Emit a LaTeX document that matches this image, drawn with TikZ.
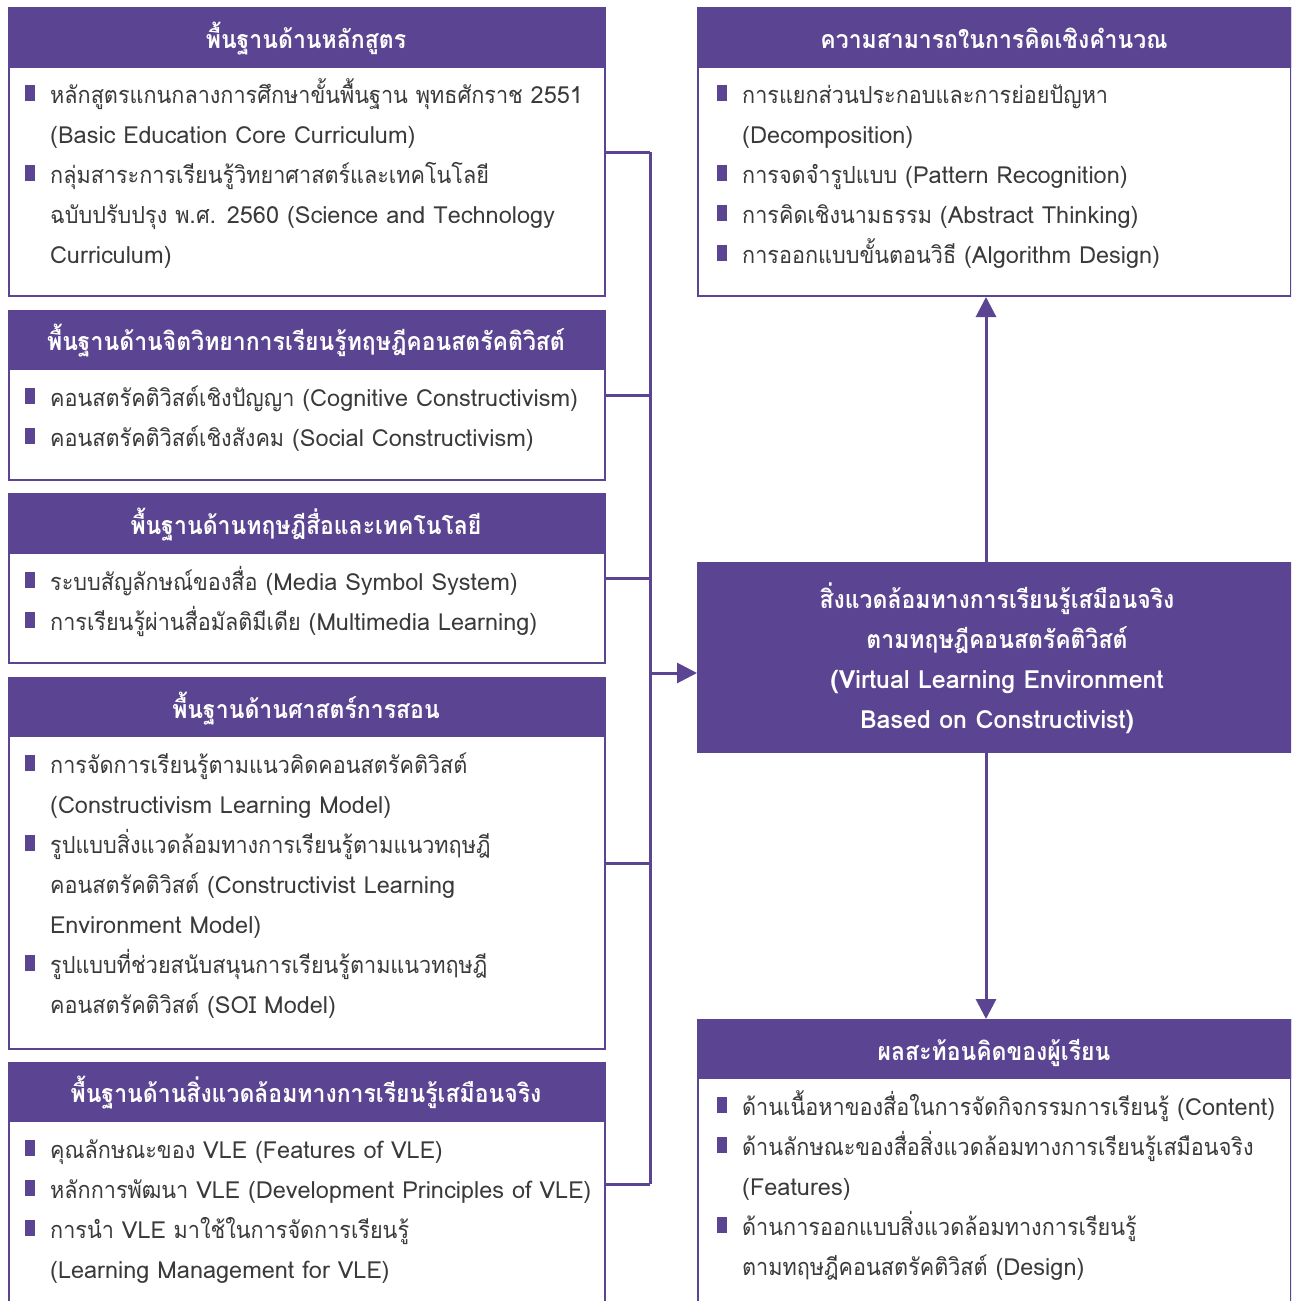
\documentclass[tikz,border=0pt]{standalone}
\usepackage{fontspec}
\setmainfont[Script=Thai]{Loma}
\newfontfamily\thaif[Script=Thai,FakeStretch=0.92]{Loma}
\XeTeXinterchartokenstate=1
\newXeTeXintercharclass\thcls
\count255="0E00
\loop \XeTeXcharclass\count255=\thcls \ifnum\count255<"0E7F \advance\count255 by 1 \repeat
\XeTeXinterchartoks 0 \thcls = {\begingroup\thaif}
\XeTeXinterchartoks 4095 \thcls = {\begingroup\thaif}
\XeTeXinterchartoks \thcls 0 = {\endgroup}
\XeTeXinterchartoks \thcls 4095 = {\endgroup}
\usetikzlibrary{arrows.meta}
\definecolor{pur}{RGB}{91,68,145}
\definecolor{txt}{RGB}{58,58,58}
\tikzset{
  boxframe/.style={draw=pur, line width=2pt, fill=white, inner sep=0, anchor=north west},
  hdr/.style={fill=pur, draw=pur, line width=2pt, inner sep=0, anchor=north west},
  htext/.style={text=white, font=\fontsize{25}{28}\selectfont\bfseries, anchor=base, inner sep=0},
  ctext/.style={text=white, font=\fontsize{25}{28}\selectfont\bfseries, anchor=base, inner sep=0},
  btext/.style={text=txt, font=\fontsize{23.5}{28}\selectfont, anchor=base west, inner sep=0},
  bull/.style={fill=pur, inner sep=0, minimum width=10pt, minimum height=16pt},
  conn/.style={draw=pur, line width=3pt},
  arr/.style={conn, -{Triangle[length=20pt,width=20pt]}},
}
\newcommand\TL[4]{\node[btext] (#1) at (#2,{#3+10}) {#4};}
\newcommand\BU[3]{\node[bull] (#1) at (#2,#3) {};}
\newcommand\HT[4]{\node[htext] (#1) at (#2,{#3+10}) {#4};}
\begin{document}
\begin{tikzpicture}[x=1pt,y=-1pt]
\useasboundingbox (0,0) rectangle (1291,1301);
\clip (0,0) rectangle (1291,1301);

% ---------- left column ----------
\node[boxframe, minimum width=596pt, minimum height=288pt] (b1) at (8,7) {};
\node[hdr, minimum width=596pt, minimum height=59pt] (h1) at (8,7) {};
\HT{h1t}{306}{38}{พื้นฐานด้านหลักสูตร}
\BU{b1u1}{29.5}{93}\TL{b1l1}{50}{93}{หลักสูตรแกนกลางการศึกษาขั้นพื้นฐาน พุทธศักราช 2551}
\TL{b1l2}{50}{133}{(Basic Education Core Curriculum)}
\BU{b1u2}{29.5}{173}\TL{b1l3}{50}{173}{กลุ่มสาระการเรียนรู้วิทยาศาสตร์และเทคโนโลยี}
\TL{b1l4}{50}{213}{ฉบับปรับปรุง พ.ศ. 2560 (Science and Technology}
\TL{b1l5}{50}{253}{Curriculum)}

\node[boxframe, minimum width=596pt, minimum height=169pt] (b2) at (8,310) {};
\node[hdr, minimum width=596pt, minimum height=58pt] (h2) at (8,310) {};
\HT{h2t}{306}{340}{พื้นฐานด้านจิตวิทยาการเรียนรู้ทฤษฎีคอนสตรัคติวิสต์}
\BU{b2u1}{29.5}{396}\TL{b2l1}{50}{396}{คอนสตรัคติวิสต์เชิงปัญญา (Cognitive Constructivism)}
\BU{b2u2}{29.5}{436}\TL{b2l2}{50}{436}{คอนสตรัคติวิสต์เชิงสังคม (Social Constructivism)}

\node[boxframe, minimum width=596pt, minimum height=169pt] (b3) at (8,493) {};
\node[hdr, minimum width=596pt, minimum height=59pt] (h3) at (8,493) {};
\HT{h3t}{306}{524}{พื้นฐานด้านทฤษฎีสื่อและเทคโนโลยี}
\BU{b3u1}{29.5}{580}\TL{b3l1}{50}{580}{ระบบสัญลักษณ์ของสื่อ (Media Symbol System)}
\BU{b3u2}{29.5}{620}\TL{b3l2}{50}{620}{การเรียนรู้ผ่านสื่อมัลติมีเดีย (Multimedia Learning)}

\node[boxframe, minimum width=596pt, minimum height=371pt] (b4) at (8,677) {};
\node[hdr, minimum width=596pt, minimum height=58pt] (h4) at (8,677) {};
\HT{h4t}{306}{708}{พื้นฐานด้านศาสตร์การสอน}
\BU{b4u1}{29.5}{763}\TL{b4l1}{50}{763}{การจัดการเรียนรู้ตามแนวคิดคอนสตรัคติวิสต์}
\TL{b4l2}{50}{803}{(Constructivism Learning Model)}
\BU{b4u2}{29.5}{843}\TL{b4l3}{50}{843}{รูปแบบสิ่งแวดล้อมทางการเรียนรู้ตามแนวทฤษฎี}
\TL{b4l4}{50}{883}{คอนสตรัคติวิสต์ (Constructivist Learning}
\TL{b4l5}{50}{923}{Environment Model)}
\BU{b4u3}{29.5}{963}\TL{b4l6}{50}{963}{รูปแบบที่ช่วยสนับสนุนการเรียนรู้ตามแนวทฤษฎี}
\TL{b4l7}{50}{1003}{คอนสตรัคติวิสต์ (SOI Model)}

\node[boxframe, minimum width=596pt, minimum height=242pt] (b5) at (8,1062) {};
\node[hdr, minimum width=596pt, minimum height=58pt] (h5) at (8,1062) {};
\HT{h5t}{306}{1092}{พื้นฐานด้านสิ่งแวดล้อมทางการเรียนรู้เสมือนจริง}
\BU{b5u1}{29.5}{1148}\TL{b5l1}{50}{1148}{คุณลักษณะของ VLE (Features of VLE)}
\BU{b5u2}{29.5}{1188}\TL{b5l2}{50}{1188}{หลักการพัฒนา VLE (Development Principles of VLE)}
\BU{b5u3}{29.5}{1228}\TL{b5l3}{50}{1228}{การนำ VLE มาใช้ในการจัดการเรียนรู้}
\TL{b5l4}{50}{1268}{(Learning Management for VLE)}

% ---------- right column ----------
\node[boxframe, minimum width=593pt, minimum height=288pt] (r1) at (697,7) {};
\node[hdr, minimum width=593pt, minimum height=59pt] (rh1) at (697,7) {};
\HT{rh1t}{994}{38}{ความสามารถในการคิดเชิงคำนวณ}
\BU{r1u1}{721.5}{93}\TL{r1l1}{742}{93}{การแยกส่วนประกอบและการย่อยปัญหา}
\TL{r1l2}{742}{133}{(Decomposition)}
\BU{r1u2}{721.5}{173}\TL{r1l3}{742}{173}{การจดจำรูปแบบ (Pattern Recognition)}
\BU{r1u3}{721.5}{213}\TL{r1l4}{742}{213}{การคิดเชิงนามธรรม (Abstract Thinking)}
\BU{r1u4}{721.5}{253}\TL{r1l5}{742}{253}{การออกแบบขั้นตอนวิธี (Algorithm Design)}

\node[hdr, minimum width=593pt, minimum height=189pt] (vle) at (697,562) {};
\node[ctext] (vt1) at (997,608) {สิ่งแวดล้อมทางการเรียนรู้เสมือนจริง};
\node[ctext] (vt2) at (997,648) {ตามทฤษฎีคอนสตรัคติวิสต์};
\node[ctext] (vt3) at (997,688) {(Virtual Learning Environment};
\node[ctext] (vt4) at (997,728) {Based on Constructivist)};

\node[boxframe, minimum width=593pt, minimum height=290pt] (r3) at (697,1019) {};
\node[hdr, minimum width=593pt, minimum height=58pt] (rh3) at (697,1019) {};
\HT{rh3t}{994}{1050}{ผลสะท้อนคิดของผู้เรียน}
\BU{r3u1}{721.5}{1105}\TL{r3l1}{742}{1105}{ด้านเนื้อหาของสื่อในการจัดกิจกรรมการเรียนรู้ (Content)}
\BU{r3u2}{721.5}{1145}\TL{r3l2}{742}{1145}{ด้านลักษณะของสื่อสิ่งแวดล้อมทางการเรียนรู้เสมือนจริง}
\TL{r3l3}{742}{1185}{(Features)}
\BU{r3u3}{721.5}{1225}\TL{r3l4}{742}{1225}{ด้านการออกแบบสิ่งแวดล้อมทางการเรียนรู้}
\TL{r3l5}{742}{1265}{ตามทฤษฎีคอนสตรัคติวิสต์ (Design)}

% ---------- connectors ----------
\coordinate (bus) at (650,673);
\coordinate (vx) at (986,0);
\foreach \b in {b1,b2,b3,b4,b5} \draw[conn] (\b.east) -- (\b.east -| bus);
\draw[conn] (b1.east -| bus) -- (b5.east -| bus);
\draw[arr] (bus) -- (bus -| vle.west);
\draw[arr] (vx |- vle.north) -- (vx |- r1.south);
\draw[arr] (vx |- vle.south) -- (vx |- r3.north);
\end{tikzpicture}
\end{document}
